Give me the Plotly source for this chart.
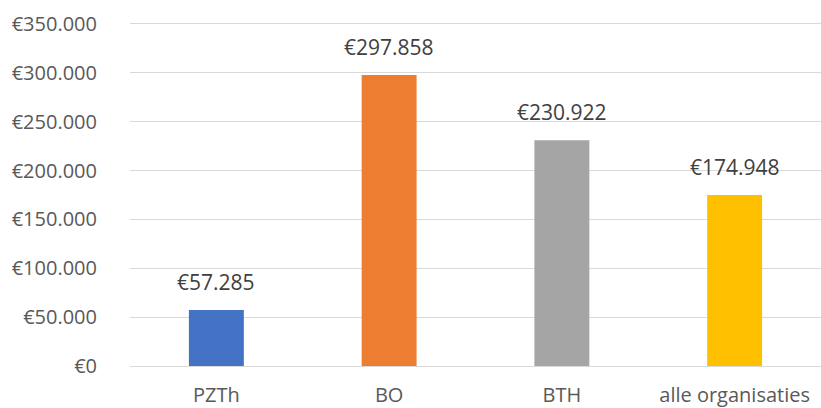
import plotly.graph_objects as go

categories = ["PZTh", "BO", "BTH", "alle organisaties"]
values = [57285, 297858, 230922, 174948]
labels = ["€57.285", "€297.858", "€230.922", "€174.948"]
colors = ["#4472C4", "#ED7D31", "#A5A5A5", "#FFC000"]
tick_vals = [0, 50000, 100000, 150000, 200000, 250000, 300000, 350000]
tick_text = ["€0", "€50.000", "€100.000", "€150.000", "€200.000", "€250.000", "€300.000", "€350.000"]

FONT = "Open Sans"

fig = go.Figure()
fig.add_trace(go.Bar(x=categories, y=values, marker=dict(color=colors, line=dict(width=0)),
                     width=0.318, hoverinfo="skip"))

for c, v, t in zip(categories, values, labels):
    fig.add_annotation(x=c, y=v, text=t, showarrow=False, yanchor="bottom",
                       yshift=12, font=dict(family=FONT, size=21, color="#404040"))

fig.update_layout(
    width=821, height=408,
    margin=dict(l=130, r=0, t=22, b=42),
    plot_bgcolor="white", paper_bgcolor="white",
    showlegend=False,
    font=dict(family=FONT, size=20, color="#595959"),
    xaxis=dict(showgrid=False, showline=False, ticks="", tickfont=dict(size=20, color="#595959"),
               ticklabelstandoff=15, automargin=False),
    yaxis=dict(range=[0, 352000], tickvals=tick_vals, ticktext=tick_text, showgrid=True,
               gridcolor="#D9D9D9", gridwidth=1, zeroline=True, zerolinecolor="#D9D9D9",
               zerolinewidth=1, showline=False, ticks="", ticklabelstandoff=32,
               tickfont=dict(size=20, color="#595959"), automargin=False),
)

fig.write_html("out.html", config={"displayModeBar": False},
               post_script="document.body.style.margin='0';document.body.style.padding='0';")
